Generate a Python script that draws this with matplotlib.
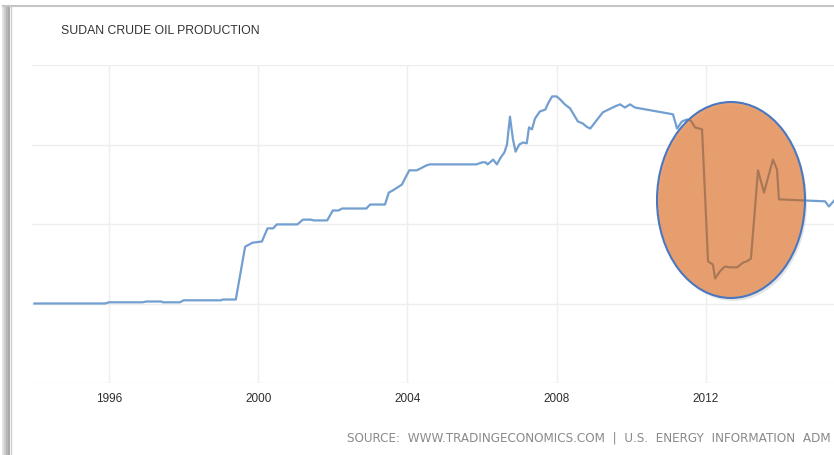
import matplotlib
matplotlib.use("Agg")
import matplotlib.pyplot as plt
from matplotlib.patches import Ellipse, Rectangle
from matplotlib.lines import Line2D

# Sudan crude oil production (kbbl/d scale guessed)
years = [1994.0, 1995.9, 1996.0, 1996.9, 1997.0, 1997.4, 1997.45, 1997.9, 1998.0, 1999.0,
         1999.05, 1999.4, 1999.65, 1999.85, 2000.1, 2000.25, 2000.4, 2000.5, 2001.05, 2001.2,
         2001.4, 2001.5, 2001.85, 2002.0, 2002.15, 2002.25, 2002.9, 2003.0, 2003.4, 2003.5,
         2003.6, 2003.85, 2003.95, 2004.05, 2004.25, 2004.4, 2004.5, 2004.6, 2005.85, 2006.0,
         2006.1, 2006.15, 2006.3, 2006.4, 2006.5, 2006.6, 2006.67, 2006.75, 2006.83, 2006.9,
         2007.0, 2007.1, 2007.2, 2007.26, 2007.34, 2007.42, 2007.55, 2007.7, 2007.77, 2007.88,
         2008.0, 2008.1, 2008.22, 2008.36, 2008.57, 2008.7, 2008.8, 2008.9, 2009.24, 2009.57,
         2009.7, 2009.83, 2009.97, 2010.1, 2011.12, 2011.23, 2011.36, 2011.5, 2011.6, 2011.71,
         2011.9, 2012.06, 2012.19, 2012.25, 2012.38, 2012.51, 2012.65, 2012.84, 2013.0, 2013.1,
         2013.21, 2013.4, 2013.56, 2013.8, 2013.91, 2013.96, 2015.2, 2015.3, 2015.49]
production = [0, 0, 3, 3, 5, 5, 3, 3, 8, 8,
              10, 10, 143, 153, 156, 189, 189, 199, 199, 211,
              211, 209, 209, 234, 234, 239, 239, 249, 249, 279,
              284, 299, 317, 335, 335, 342, 347, 350, 350, 355,
              355, 350, 362, 350, 367, 380, 400, 470, 413, 382,
              400, 405, 403, 443, 438, 465, 483, 488, 503, 521,
              521, 513, 501, 491, 458, 453, 445, 440, 481, 496,
              501, 493, 501, 493, 476, 440, 458, 463, 460, 443,
              438, 106, 98, 63, 81, 93, 91, 91, 103, 106,
              113, 335, 279, 362, 337, 262, 257, 244, 264]

tick_years = [1996, 2000, 2004, 2008, 2012]
grid_values = [-200, 0, 200, 400, 600]

title = "SUDAN CRUDE OIL PRODUCTION"
# the screenshot cuts the source line off at the right edge
source = "SOURCE:  WWW.TRADINGECONOMICS.COM  |  U.S.  ENERGY  INFORMATION  ADM"

W, H = 834, 455
fig = plt.figure(figsize=(W / 100, H / 100), dpi=100)
fig.patch.set_facecolor("white")


def fx(x):
    return x / W


def fy(y):
    return 1 - y / H


pos = [fx(32), fy(383), 1 - fx(32), (383 - 65) / H]
ax = fig.add_axes(pos)
ax.plot(years, production, color="#729fd0", linewidth=1.6, solid_joinstyle="round")
ax.set_xlim(1993.936, 2015.437)
ax.set_ylim(-200, 600)
ax.set_xticks(tick_years)
ax.set_xticklabels([str(y) for y in tick_years],
                   family=["Liberation Sans Narrow", "Liberation Sans"],
                   fontsize=8.5, color="#2e2e2e")
ax.set_yticks(grid_values)
ax.set_yticklabels([])
ax.tick_params(length=0)
ax.tick_params(axis="x", pad=7)
ax.grid(True, color="#eeeeee", linewidth=1)
ax.set_axisbelow(True)
for s in ax.spines.values():
    s.set_visible(False)

# highlight ellipse over the 2011-2013 drop
shadow = Ellipse((fx(733), fy(203)), fx(148), 196 / H, transform=fig.transFigure,
                 facecolor="#999999", edgecolor="none", alpha=0.25, zorder=5)
fig.add_artist(shadow)
ell = Ellipse((fx(731), fy(200)), fx(148), 196 / H, transform=fig.transFigure,
              facecolor="#e8925a", alpha=0.85, edgecolor="none", zorder=6)
fig.add_artist(ell)

# the line shows through the ellipse as a darker brown trace
ax2 = fig.add_axes(pos, zorder=7)
ax2.patch.set_visible(False)
ax2.axis("off")
ax2.set_xlim(ax.get_xlim())
ax2.set_ylim(ax.get_ylim())
inner, = ax2.plot(years, production, color="#8a6548", alpha=0.6, linewidth=1.5,
                  solid_joinstyle="round")
inner.set_clip_path(ell)

ell_edge = Ellipse((fx(731), fy(200)), fx(148), 196 / H, transform=fig.transFigure,
                   facecolor="none", edgecolor="#4a78c0", linewidth=1.5, zorder=8)
fig.add_artist(ell_edge)

# screenshot frame with shadow on the left
for x0, x1, c in [(2, 4, "#e2e2e2"), (4, 6, "#cbcbcb"), (6, 8, "#b6b6b6"), (8, 10, "#a9a9a9")]:
    fig.add_artist(Rectangle((fx(x0), 0), fx(x1 - x0), fy(5), transform=fig.transFigure,
                             facecolor=c, edgecolor="none"))
fig.add_artist(Line2D([fx(10.5), fx(10.5)], [0, fy(6)], transform=fig.transFigure,
                      color="#c9cdcd", linewidth=1))
fig.add_artist(Line2D([fx(3), 1], [fy(5.5), fy(5.5)], transform=fig.transFigure,
                      color="#c2c6c6", linewidth=1.5))

fig.text(fx(61), fy(31), title, fontsize=8.8, color="#333333",
         family=["Liberation Sans", "DejaVu Sans"], va="center", ha="left")
fig.text(fx(347), fy(438), source, fontsize=8.65, color="#8a8a8a",
         family=["DejaVu Sans"], va="center", ha="left")

fig.savefig("out.png", dpi=100)
